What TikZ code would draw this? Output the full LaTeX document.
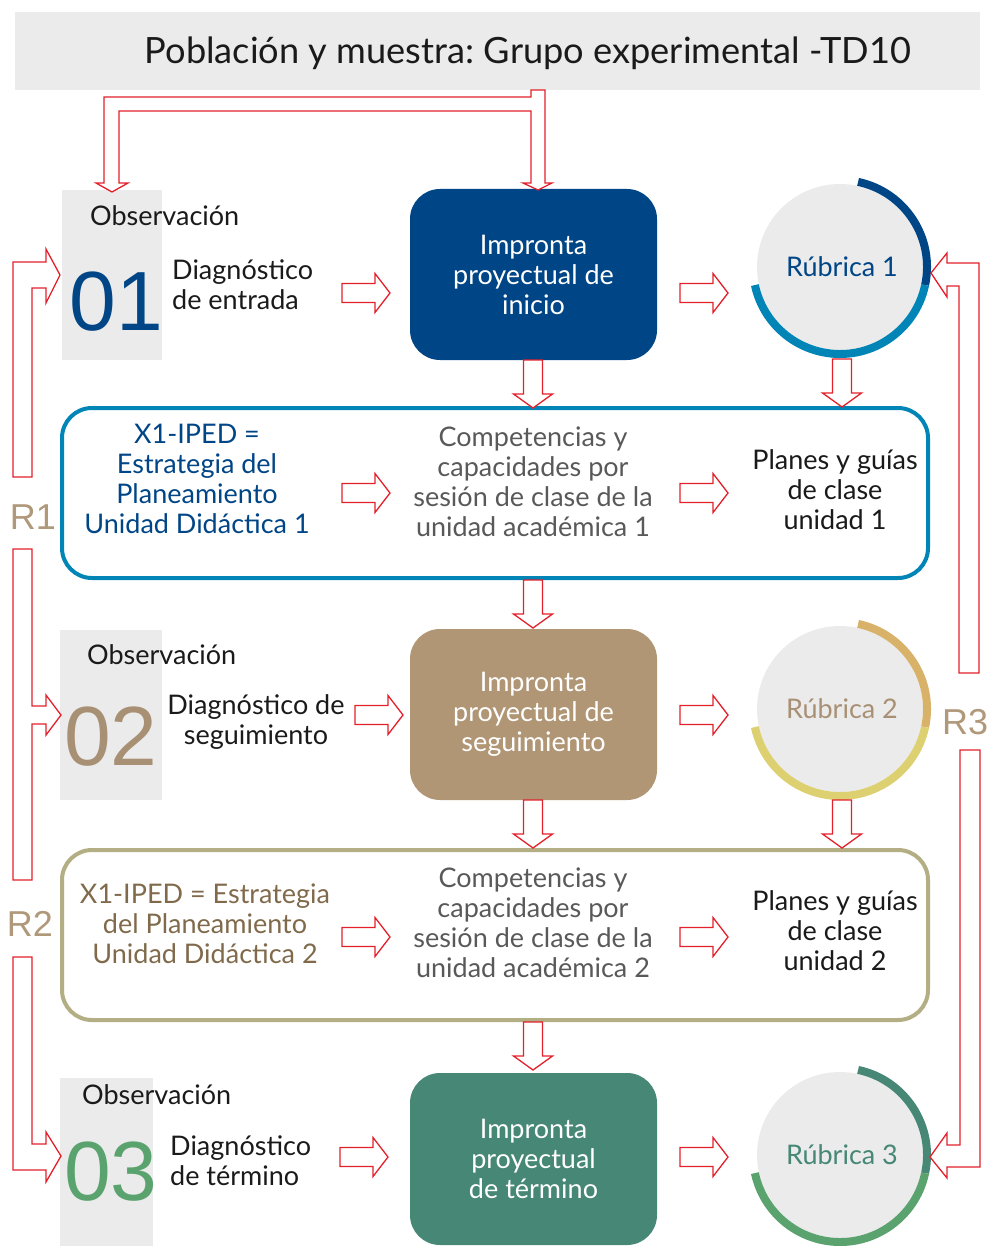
\documentclass[tikz,border=0pt]{standalone}
\usepackage{fontspec}
\setmainfont{Lato}
\newfontfamily\arialf{Liberation Sans}
\frenchspacing
\definecolor{redA}{RGB}{228,32,42}
\definecolor{grayF}{RGB}{235,235,235}
\definecolor{blueD}{RGB}{0,69,134}
\definecolor{blueL}{RGB}{0,133,182}
\definecolor{tanB}{RGB}{176,150,117}
\definecolor{tanT}{RGB}{168,144,116}
\definecolor{goldA}{RGB}{217,178,106}
\definecolor{yelA}{RGB}{220,208,112}
\definecolor{tealA}{RGB}{70,135,118}
\definecolor{greenA}{RGB}{91,163,110}
\definecolor{khakiA}{RGB}{179,174,131}
\definecolor{brownT}{RGB}{128,106,75}
\definecolor{grayT}{RGB}{89,89,89}
\definecolor{rtext}{RGB}{176,152,122}
\definecolor{blackT}{RGB}{26,26,26}
\begin{document}
\begin{tikzpicture}[x=1pt,y=-1pt,
  hollow/.style={draw=redA, fill=white, line width=1.3pt, line join=miter},
  rarr/.pic={\draw[hollow] (0,-9.5) -- (33,-9.5) -- (33,-19.5) -- (48,0) -- (33,19.5) -- (33,9.5) -- (0,9.5) -- cycle;},
  darr/.pic={\draw[hollow] (-9.5,0) -- (-9.5,34) -- (-19.5,34) -- (0,48) -- (19.5,34) -- (9.5,34) -- (9.5,0) -- cycle;},
  bodyf/.style={font=\fontsize{27}{30}\selectfont, inner sep=0pt, align=center},
  obsbox/.style={fill=grayF, inner sep=0pt, minimum width=100pt, minimum height=170pt},
  obslabel/.style={font=\fontsize{27}{30}\selectfont, inner sep=0pt, text=blackT},
  bignum/.style={font=\arialf\fontsize{84}{90}\selectfont, inner sep=0pt},
  impbox/.style={rounded corners=30pt, minimum width=247pt, minimum height=171pt, inner sep=0pt, text=white, font=\fontsize{27}{30}\selectfont, align=center},
  rubc/.style={circle, fill=grayF, minimum size=166pt, inner sep=0pt, font=\fontsize{27}{30}\selectfont},
  ring/.style={line width=8pt},
  bigbox/.style={line width=4pt, rounded corners=30pt, minimum width=866pt, minimum height=170pt, inner sep=0pt},
  rlab/.style={font=\arialf\fontsize{36}{40}\selectfont, text=rtext, inner sep=0pt}
]
\useasboundingbox (0,0) rectangle (986,1246);

% title
\node[fill=grayF, minimum width=965pt, minimum height=78pt, inner sep=0pt] (title) at (497.5,51) {};
\node[font=\fontsize{36.2}{40}\selectfont, inner sep=0pt, text=blackT, anchor=base] (titletext) at (528,64) {Población y muestra: Grupo experimental -TD10};

% observation boxes
\node[obsbox] (obs1) at (112,275) {};
\node[obsbox, minimum width=102pt] (obs2) at (111,715) {};
\node[obsbox, minimum width=93pt, minimum height=168pt] (obs3) at (106.5,1162) {};
\node[obslabel, anchor=base west] (ol1) at (90,226) {Observación};
\node[obslabel, anchor=base west] (ol2) at (87,664) {Observación};
\node[obslabel, anchor=base west] (ol3) at (82,1104) {Observación};
\node[bignum, text=blueD, anchor=base] (n1) at (116.5,330) {01};
\node[bignum, text=tanT, anchor=base] (n2) at (111,765) {02};
\node[bignum, text=greenA, anchor=base] (n3) at (111,1200) {03};
\node[bodyf, align=left, anchor=west, text=blackT] (d1) at (172,285) {Diagnóstico\\de entrada};
\node[bodyf, text=blackT] (d2) at (256,722) {Diagnóstico de\\seguimiento};
\node[bodyf, align=left, anchor=west, text=blackT] (d3) at (170,1160.5) {Diagnóstico\\de término};

% impronta boxes
\node[impbox, fill=blueD] (imp1) at (533.5,274.5) {Impronta\\proyectual de\\inicio};
\node[impbox, fill=tanB] (imp2) at (533.5,714.5) {Impronta\\proyectual de\\seguimiento};
\node[impbox, fill=tealA, minimum height=172pt] (imp3) at (533.5,1159) {Impronta\\proyectual\\de término};

% rubric circles
\node[rubc, text=blueD] (rub1) at (840,267) {\hspace*{4pt}Rúbrica 1};
\node[rubc, text=tanT] (rub2) at (840,709) {\hspace*{4pt}Rúbrica 2};
\node[rubc, text=tealA] (rub3) at (840,1155) {\hspace*{4pt}Rúbrica 3};
\draw[ring, blueD] (rub1.center) ++(-78:87) arc[start angle=-78, end angle=12, radius=87];
\draw[ring, blueL] (rub1.center) ++(12:87) arc[start angle=12, end angle=168, radius=87];
\draw[ring, goldA] (rub2.center) ++(-78:87) arc[start angle=-78, end angle=12, radius=87];
\draw[ring, yelA] (rub2.center) ++(12:87) arc[start angle=12, end angle=168, radius=87];
\draw[ring, tealA] (rub3.center) ++(-78:87) arc[start angle=-78, end angle=12, radius=87];
\draw[ring, greenA] (rub3.center) ++(12:87) arc[start angle=12, end angle=168, radius=87];

% big boxes
\node[bigbox, draw=blueL] (box1) at (495,493) {};
\node[bigbox, draw=khakiA] (box2) at (495,935) {};
\node[bodyf, text=blueD] (s1) at (197,478.5) {X1-IPED =\\Estrategia del\\Planeamiento\\Unidad Didáctica 1};
\node[bodyf, text=grayT] (c1) at (533,481.5) {Competencias y\\capacidades por\\sesión de clase de la\\unidad académica 1};
\node[bodyf, text=blackT] (p1) at (835,490) {Planes y guías\\de clase\\unidad 1};
\node[bodyf, text=brownT] (s2) at (205,923.5) {X1-IPED = Estrategia\\del Planeamiento\\Unidad Didáctica 2};
\node[bodyf, text=grayT] (c2) at (533,923) {Competencias y\\capacidades por\\sesión de clase de la\\unidad académica 2};
\node[bodyf, text=blackT] (p2) at (835,931) {Planes y guías\\de clase\\unidad 2};

% small block arrows
\pic at (342,293) {rarr};
\pic at (680,293) {rarr};
\pic at (342,493) {rarr};
\pic at (680,493) {rarr};
\pic at (355,715) {rarr};
\pic at (680,715) {rarr};
\pic at (342,937) {rarr};
\pic at (680,937) {rarr};
\pic at (340,1157) {rarr};
\pic at (680,1157) {rarr};
\pic at (533,360) {darr};
\pic at (842,359) {darr};
\pic at (533,580) {darr};
\pic at (533,800) {darr};
\pic at (842,800) {darr};
\pic at (533,1022) {darr};

% top fork arrow
\draw[hollow] (531,90) -- (545,90) -- (545,183) -- (552,183) -- (538,190) -- (523,183) -- (531,183)
  -- (531,111) -- (119,111) -- (119,183) -- (128,183) -- (112,192) -- (96,183) -- (104,183)
  -- (104,97) -- (531,97) -- cycle;

% R1 / R2 / R3 loops
\draw[hollow] (60,275) -- (46,249) -- (46,262) -- (13,262) -- (13,477) -- (32,477) -- (32,288) -- (46,288) -- (46,303) -- cycle;
\draw[hollow] (13,549) -- (32,549) -- (32,706) -- (46,706) -- (46,695) -- (61,715) -- (46,735) -- (46,724) -- (32,724) -- (32,880) -- (13,880) -- cycle;
\draw[hollow] (13,957) -- (32,957) -- (32,1144) -- (46,1144) -- (46,1132) -- (61,1156) -- (46,1182) -- (46,1170) -- (13,1170) -- cycle;
\draw[hollow] (931,273) -- (947,253) -- (947,263) -- (979,263) -- (979,673) -- (959,673) -- (959,286) -- (947,286) -- (947,297) -- cycle;
\draw[hollow] (960,750) -- (980,750) -- (980,1167) -- (947,1167) -- (947,1178) -- (930,1157) -- (947,1133) -- (947,1145) -- (960,1145) -- cycle;

\node[rlab] (r1) at (33,517) {R1};
\node[rlab] (r2) at (30,924) {R2};
\node[rlab, anchor=west] (r3) at (942,722) {R3};
\end{tikzpicture}
\end{document}
